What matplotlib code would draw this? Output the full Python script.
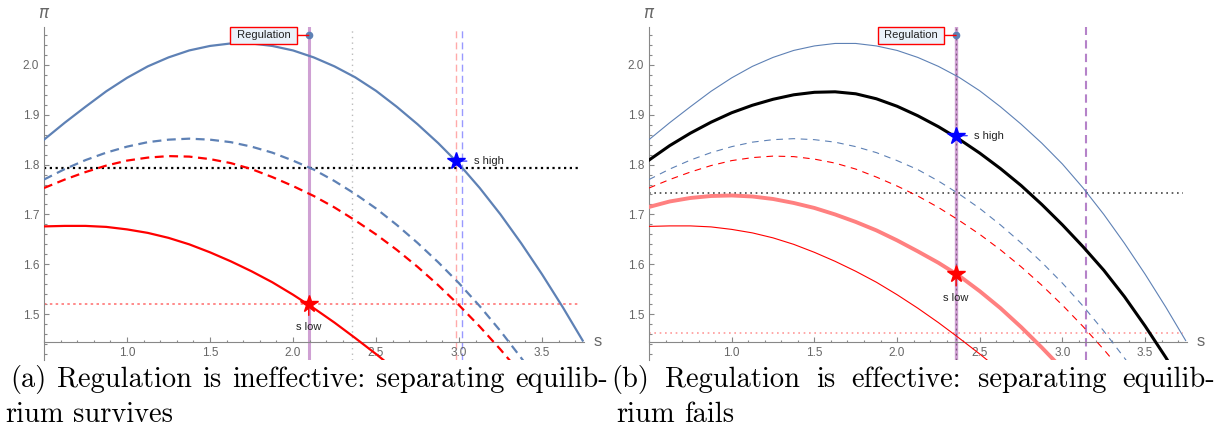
import matplotlib
matplotlib.use('Agg')
import matplotlib.pyplot as plt
from matplotlib.ticker import MultipleLocator

# curves shared by both panels (step 0.125 in s)
s_hi = [0.5, 0.625, 0.75, 0.875, 1.0, 1.125, 1.25, 1.375, 1.5, 1.625, 1.75, 1.875,
        2.0, 2.125, 2.25, 2.375, 2.5, 2.625, 2.75, 2.875, 3.0, 3.125, 3.25, 3.375,
        3.5, 3.625, 3.745]
pi_hi = [1.850, 1.884, 1.916, 1.947, 1.974, 1.997, 2.015, 2.029, 2.038, 2.043, 2.043, 2.038,
         2.029, 2.015, 1.997, 1.975, 1.948, 1.916, 1.881, 1.843, 1.801, 1.753, 1.700, 1.642,
         1.580, 1.514, 1.447]
s_hi_dev = [0.5, 0.625, 0.75, 0.875, 1.0, 1.125, 1.25, 1.375, 1.5, 1.625, 1.75, 1.875,
            2.0, 2.125, 2.25, 2.375, 2.5, 2.625, 2.75, 2.875, 3.0, 3.125, 3.25, 3.375, 3.45]
pi_hi_dev = [1.770, 1.791, 1.809, 1.824, 1.836, 1.845, 1.850, 1.852, 1.850, 1.845, 1.836, 1.824,
             1.808, 1.790, 1.767, 1.741, 1.712, 1.679, 1.643, 1.604, 1.562, 1.516, 1.466, 1.412,
             1.378]
s_lo_dev = [0.5, 0.625, 0.75, 0.875, 1.0, 1.125, 1.25, 1.375, 1.5, 1.625, 1.75, 1.875,
            2.0, 2.125, 2.25, 2.375, 2.5, 2.625, 2.75, 2.875, 3.0, 3.125, 3.25, 3.375]
pi_lo_dev = [1.753, 1.770, 1.785, 1.798, 1.808, 1.814, 1.817, 1.816, 1.811, 1.803, 1.791, 1.775,
             1.757, 1.737, 1.714, 1.688, 1.660, 1.629, 1.595, 1.558, 1.518, 1.475, 1.429, 1.380]
s_lo = [0.5, 0.625, 0.75, 0.875, 1.0, 1.125, 1.25, 1.375, 1.5, 1.625, 1.75, 1.875,
        2.0, 2.125, 2.25, 2.375, 2.5, 2.6]
pi_lo = [1.676, 1.677, 1.677, 1.675, 1.670, 1.663, 1.653, 1.640, 1.624, 1.606, 1.586, 1.564,
         1.539, 1.512, 1.483, 1.452, 1.420, 1.393]

# panel (b) only: profits under regulation
s_reg_hi = [0.5, 0.625, 0.75, 0.875, 1.0, 1.125, 1.25, 1.375, 1.5, 1.625, 1.75, 1.875,
            2.0, 2.125, 2.25, 2.375, 2.5, 2.625, 2.75, 2.875, 3.0, 3.125, 3.25, 3.375,
            3.5, 3.625, 3.7]
pi_reg_hi = [1.809, 1.838, 1.863, 1.885, 1.904, 1.919, 1.931, 1.940, 1.945, 1.946, 1.942, 1.932,
             1.917, 1.898, 1.876, 1.851, 1.823, 1.792, 1.758, 1.720, 1.679, 1.635, 1.588, 1.535,
             1.476, 1.413, 1.372]
s_reg_lo = [0.5, 0.625, 0.75, 0.875, 1.0, 1.125, 1.25, 1.375, 1.5, 1.625, 1.75, 1.875,
            2.0, 2.125, 2.25, 2.375, 2.5, 2.625, 2.75, 2.875, 3.0]
pi_reg_lo = [1.715, 1.726, 1.733, 1.737, 1.738, 1.736, 1.731, 1.723, 1.713, 1.700, 1.685, 1.668,
             1.648, 1.626, 1.603, 1.577, 1.546, 1.512, 1.474, 1.433, 1.390]

# reference lines / points
reg_a, reg_b = 2.095, 2.357
pool_a, pool_b = 1.793, 1.744
low_a, low_b = 1.521, 1.463
sep_lo_a, sep_hi_a = 2.981, 3.019
gray_a = 2.357
cut_b = 3.142
star_hi_a, star_lo_a = (2.98, 1.807), (2.095, 1.521)
star_hi_b, star_lo_b = (2.357, 1.858), (2.357, 1.58)
callout_y = 2.059

x_ticks = [1.0, 1.5, 2.0, 2.5, 3.0, 3.5]
y_ticks = [1.5, 1.6, 1.7, 1.8, 1.9, 2.0]
S_MIN, S_MAX = 0.5, 3.75
H_END = 3.73
AX_Y = 1.445

BLUE = '#5E81B5'
RED = '#FF0000'
PINK = '#FF8080'
PURPLE = '#CFA0D3'
GRAY = '#888888'
TXT = '#666666'

W, H = 1227, 430
fig = plt.figure(figsize=(W / 100, H / 100), dpi=100)


def px_axes(x0, x1, y0, y1):
    return fig.add_axes([x0 / W, 1 - y1 / H, (x1 - x0) / W, (y1 - y0) / H])


def setup(ax):
    ax.set_xlim(S_MIN, S_MAX)
    ax.set_ylim(1.408, 2.077)
    ax.patch.set_alpha(0)
    for side in ['top', 'right']:
        ax.spines[side].set_visible(False)
    ax.spines['bottom'].set_position(('data', AX_Y))
    for side in ['left', 'bottom']:
        ax.spines[side].set_color(GRAY)
        ax.spines[side].set_linewidth(0.8)
    ax.set_xticks(x_ticks)
    ax.set_yticks(y_ticks)
    ax.set_xticklabels([f'{v:.1f}' for v in x_ticks])
    ax.set_yticklabels([f'{v:.1f}' for v in y_ticks])
    ax.xaxis.set_minor_locator(MultipleLocator(0.1))
    ax.yaxis.set_minor_locator(MultipleLocator(0.02))
    ax.tick_params(which='both', direction='in', color=GRAY, width=0.8,
                   labelcolor=TXT, labelsize=8.5)
    ax.tick_params(which='major', length=3.5)
    ax.tick_params(which='minor', length=1.8)
    ax.tick_params(axis='x', pad=4)
    ax.tick_params(axis='y', pad=3.5)
    for lab in ax.get_xticklabels() + ax.get_yticklabels():
        lab.set_fontfamily('Liberation Sans')
    ax.annotate(r'$\pi$', xy=(S_MIN, 1), xycoords=('data', 'axes fraction'),
                xytext=(0, 9.5), textcoords='offset points', ha='center',
                va='center', fontsize=12, color=TXT)
    ax.annotate('s', xy=(S_MAX, AX_Y), xytext=(7, 0), textcoords='offset points',
                ha='left', va='center', fontsize=12, color=TXT,
                family='Liberation Sans', annotation_clip=False)


def callout(ax, x):
    ax.plot([x], [callout_y], 'o', color=BLUE, ms=4.5, zorder=6, clip_on=False)
    ax.annotate(' Regulation ', xy=(x, callout_y), xytext=(-11, 0),
                textcoords='offset points', ha='right', va='center',
                fontsize=8, family='Liberation Sans', color='#222222',
                bbox=dict(boxstyle='square,pad=0.3', fc='#EAF2FA', ec=RED, lw=1),
                arrowprops=dict(arrowstyle='-', color=RED, lw=1, shrinkA=0, shrinkB=0),
                zorder=6, annotation_clip=False)


def stars(ax, hi, lo):
    ax.annotate('s high', xy=hi, xytext=(13, 0), textcoords='offset points',
                ha='left', va='center', fontsize=8, family='Liberation Sans',
                color='#222222',
                arrowprops=dict(arrowstyle='-', color='#4040FF', lw=1, shrinkA=3, shrinkB=0),
                zorder=7)
    ax.annotate('s low', xy=lo, xytext=(0, -17), textcoords='offset points',
                ha='center', va='center', fontsize=8, family='Liberation Sans',
                color='#222222',
                arrowprops=dict(arrowstyle='-', color=RED, lw=1, shrinkA=3, shrinkB=0),
                zorder=7)
    ax.plot(*hi, marker='*', color='#0000FF', ms=13, zorder=8)
    ax.plot(*lo, marker='*', color=RED, ms=13, zorder=8)


# ---- panel (a)
ax1 = px_axes(44, 583.5, 26.5, 360)
setup(ax1)
ax1.axvline(reg_a, color=PURPLE, lw=2.2, zorder=1)
ax1.axvline(gray_a, color='#BBBBBB', lw=1, ls=(0, (1, 3)), zorder=1)
ax1.axvline(sep_lo_a, color='#FFAAAA', lw=1, ls=(0, (5, 3)), zorder=1)
ax1.axvline(sep_hi_a, color='#9999FF', lw=1, ls=(0, (5, 3)), zorder=1)
ax1.hlines(pool_a, S_MIN, H_END, color='black', lw=1.6, ls=(0, (1, 1.6)), zorder=2)
ax1.hlines(low_a, S_MIN, H_END, color='#FF7777', lw=1.2, ls=(0, (1.5, 2)), zorder=2)
ax1.plot(s_hi, pi_hi, color=BLUE, lw=1.6, zorder=3)
ax1.plot(s_hi_dev, pi_hi_dev, color=BLUE, lw=1.6, ls=(0, (4, 2.5)), zorder=3)
ax1.plot(s_lo_dev, pi_lo_dev, color=RED, lw=1.6, ls=(0, (4, 2.5)), zorder=3)
ax1.plot(s_lo, pi_lo, color=RED, lw=1.6, zorder=3)
callout(ax1, reg_a)
stars(ax1, star_hi_a, star_lo_a)

# ---- panel (b)
ax2 = px_axes(649, 1186.5, 26.5, 360)
setup(ax2)
ax2.axvline(reg_b, color=PURPLE, lw=2.4, zorder=1)
ax2.axvline(reg_b, color='#7A5A7A', lw=0.9, ls=(0, (1.5, 2.5)), zorder=1)
ax2.axvline(cut_b, color='#B582C9', lw=1.5, ls=(0, (4, 2.5)), zorder=1)
ax2.hlines(pool_b, S_MIN, H_END, color='#444444', lw=1.2, ls=(0, (1, 2.2)), zorder=2)
ax2.hlines(low_b, S_MIN, H_END, color='#FF9999', lw=1.2, ls=(0, (1, 2.2)), zorder=2)
ax2.plot(s_hi, pi_hi, color=BLUE, lw=0.8, zorder=3)
ax2.plot(s_hi_dev, pi_hi_dev, color=BLUE, lw=0.8, ls=(0, (6, 5)), zorder=3)
ax2.plot(s_lo_dev, pi_lo_dev, color=RED, lw=0.8, ls=(0, (6, 5)), zorder=3)
ax2.plot(s_lo, pi_lo, color=RED, lw=0.8, zorder=3)
ax2.plot(s_reg_hi, pi_reg_hi, color='black', lw=2.2, zorder=4)
ax2.plot(s_reg_lo, pi_reg_lo, color=PINK, lw=2.8, zorder=4)
callout(ax2, reg_b)
stars(ax2, star_hi_b, star_lo_b)

# ---- captions, justified like the LaTeX subcaptions
CAP_FS = 20.5
renderer = fig.canvas.get_renderer()


def caption(line, x0, x1, base, justify=True):
    words = line.split()
    texts = [fig.text(0, 1 - base / H, w, fontsize=CAP_FS, family='cmr10',
                      va='baseline', ha='left') for w in words]
    widths = [t.get_window_extent(renderer).width for t in texts]
    if justify and len(words) > 1:
        gap = (x1 - x0 - sum(widths)) / (len(words) - 1)
    else:
        gap = CAP_FS * 0.333 * 100 / 72
    x = x0
    for t, w in zip(texts, widths):
        t.set_x(x / W)
        x += w + gap


caption('(a) Regulation is ineffective: separating equilib-', 10, 608, 387)
caption('rium survives', 5, 0, 422, justify=False)
caption('(b) Regulation is effective: separating equilib-', 611, 1215, 387)
caption('rium fails', 616, 0, 422, justify=False)

fig.savefig('out.png', dpi=100)
